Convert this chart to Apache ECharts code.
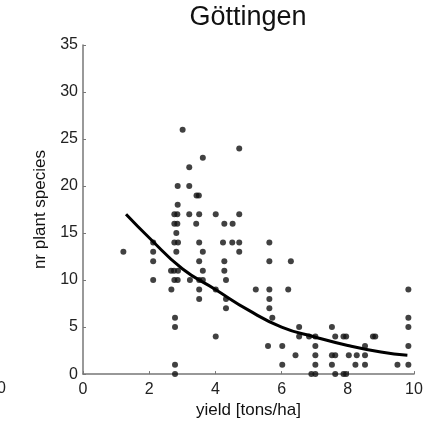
<!DOCTYPE html>
<html>
<head>
<meta charset="utf-8">
<script src="https://cdn.jsdelivr.net/npm/echarts@6/dist/echarts.min.js"></script>
<style>
html,body{margin:0;padding:0;background:#fff;}
#chart{width:430px;height:424px;}
</style>
</head>
<body>
<div id="chart"></div>
<script>
var titleText = 'Göttingen';
var xAxisName = 'yield [tons/ha]';
var yAxisName = 'nr plant species';

var yieldX = [
  3.01,
  4.72,
  3.62,
  3.21,
  2.86, 3.21,
  3.43, 3.50,
  2.86,
  2.76, 2.85, 3.21, 3.51, 4.01, 4.72,
  2.76, 2.85, 3.42, 4.27, 4.52,
  2.82,
  2.12, 2.76, 2.87, 3.51, 4.23, 4.51, 4.72, 5.63,
  1.22, 2.12, 2.82, 3.62, 4.72,
  2.12, 3.51, 4.27, 5.63, 6.28,
  2.66, 2.75, 2.87, 3.62, 4.27,
  2.12, 2.76, 2.86, 3.23, 3.51, 3.62, 4.32,
  2.67, 3.51, 4.01, 5.22, 5.63, 6.20, 9.83,
  3.51, 4.32, 5.63,
  4.32, 5.63,
  2.78, 5.72, 9.83,
  2.78, 6.53, 7.52, 9.83,
  4.01, 6.53, 6.83, 7.02, 7.62, 7.87, 7.95, 8.76, 8.83,
  5.59, 6.02, 7.02, 8.52, 9.83,
  6.42, 7.02, 7.52, 7.62, 8.03, 8.27, 8.52,
  2.78, 6.02, 7.02, 7.52, 8.23, 8.52, 9.50, 9.83,
  2.78, 6.90, 7.02, 7.62, 7.87, 7.95
];
var speciesY = [
  26,
  24,
  23,
  22,
  20, 20,
  19, 19,
  18,
  17, 17, 17, 17, 17, 17,
  16, 16, 16, 16, 16,
  15,
  14, 14, 14, 14, 14, 14, 14, 14,
  13, 13, 13, 13, 13,
  12, 12, 12, 12, 12,
  11, 11, 11, 11, 11,
  10, 10, 10, 10, 10, 10, 10,
  9, 9, 9, 9, 9, 9, 9,
  8, 8, 8,
  7, 7,
  6, 6, 6,
  5, 5, 5, 5,
  4, 4, 4, 4, 4, 4, 4, 4, 4,
  3, 3, 3, 3, 3,
  2, 2, 2, 2, 2, 2, 2,
  1, 1, 1, 1, 1, 1, 1, 1,
  0, 0, 0, 0, 0, 0
];

var fitX = [1.3, 2.0, 3.0, 4.0, 5.0, 6.0, 7.0, 8.0, 9.0, 9.8];
var fitY = [17.0, 14.5, 11.2, 9.0, 6.8, 5.0, 3.95, 3.05, 2.35, 2.0];

var xTicks = [0, 2, 4, 6, 8, 10];
var yTicks = [0, 5, 10, 15, 20, 25, 30, 35];

var pts = yieldX.map(function (x, i) { return [x, speciesY[i]]; });
var fit = fitX.map(function (x, i) { return [x, fitY[i]]; });

var font = 'Liberation Sans, Arial, sans-serif';
var chart = echarts.init(document.getElementById('chart'), null, {renderer: 'canvas'});
chart.setOption({
  animation: false,
  backgroundColor: '#ffffff',
  grid: {left: 83, right: 16, top: 45, bottom: 48, containLabel: false},
  xAxis: {
    type: 'value', min: xTicks[0], max: xTicks[xTicks.length - 1], interval: 2,
    name: xAxisName, nameLocation: 'middle', nameGap: 24,
    nameTextStyle: {fontFamily: font, fontSize: 17, color: '#111'},
    axisLine: {show: true, lineStyle: {color: '#777', width: 1.5}},
    axisTick: {show: true, inside: true, length: 3, lineStyle: {color: '#777'}},
    axisLabel: {fontFamily: font, fontSize: 16, color: '#222', margin: 7},
    splitLine: {show: false}
  },
  yAxis: {
    type: 'value', min: yTicks[0], max: yTicks[yTicks.length - 1], interval: 5,
    name: yAxisName, nameLocation: 'middle', nameGap: 32,
    nameTextStyle: {fontFamily: font, fontSize: 17, color: '#111'},
    axisLine: {show: true, lineStyle: {color: '#777', width: 1.5}},
    axisTick: {show: true, inside: true, length: 3, lineStyle: {color: '#777'}},
    axisLabel: {fontFamily: font, fontSize: 16, color: '#222', margin: 5},
    splitLine: {show: false}
  },
  series: [
    {
      type: 'scatter', data: pts, symbol: 'circle', symbolSize: 6,
      itemStyle: {color: '#111'}, z: 3
    },
    {
      type: 'line', data: fit, smooth: true, showSymbol: false, symbol: 'none',
      lineStyle: {color: '#000', width: 3}, z: 4
    }
  ],
  graphic: [
    {type: 'text', x: 248, y: 18, style: {text: titleText, font: '27px Liberation Sans, Arial, sans-serif', fill: '#111', textAlign: 'center', textVerticalAlign: 'middle'}},
    {type: 'text', left: -3, top: 381, style: {text: '0', font: '16px Liberation Sans, Arial, sans-serif', fill: '#222'}}
  ]
});
</script>
</body>
</html>
